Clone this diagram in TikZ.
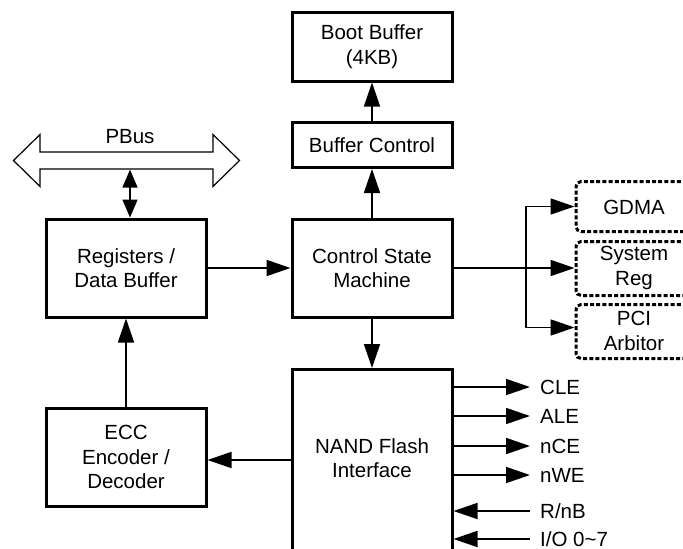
\documentclass[tikz,border=0pt]{standalone}
\usepackage{fontspec}
\setmainfont{Liberation Sans}
\usetikzlibrary{arrows.meta,calc}
\begin{document}
\begin{tikzpicture}[x=1pt,y=-1pt,
  every node/.style={font=\fontsize{20.5}{24.5}\selectfont,align=center},
  blk/.style={draw,line width=3pt,inner sep=0pt},
  dblk/.style={draw,line width=3pt,inner sep=0pt,dash pattern=on 4pt off 2.2pt,rounded corners=5pt},
  arr/.style={line width=1.7pt,-{Triangle[length=24pt,width=16pt]}},
  dblarr/.style={line width=1.7pt,{Triangle[length=18pt,width=15pt]}-{Triangle[length=18pt,width=15pt]}},
  lbl/.style={anchor=west,inner sep=0pt,align=left}]
\useasboundingbox (0,0) rectangle (683,549);
\clip (0,0) rectangle (683,549);
% blocks
\node[blk,minimum width=160,minimum height=69] (boot) at (372,46.5) {Boot Buffer\\(4KB)};
\node[blk,minimum width=160,minimum height=45] (bufctl) at (372,145) {Buffer Control};
\node[blk,minimum width=160,minimum height=98] (csm) at (372,268) {Control State\\Machine};
\node[blk,minimum width=160,minimum height=98] (reg) at (126,268) {Registers /\\Data Buffer};
\node[blk,minimum width=160,minimum height=98] (ecc) at (126,457) {ECC\\Encoder /\\Decoder};
\node[blk,minimum width=160,minimum height=186] (nand) at (372,462.5) {};
\node (nandtxt) at (372,458) {NAND Flash\\Interface};
\node[dblk,minimum width=116,minimum height=50] (gdma) at (634,206.5) {};
\node (gdmatxt) at (634,207) {GDMA};
\node[dblk,minimum width=116,minimum height=54] (sysreg) at (634,268.5) {};
\node (sysregtxt) at (634,268) {System\\Reg};
\node[dblk,minimum width=116,minimum height=54] (pci) at (634,331.5) {};
\node (pcitxt) at (634,331) {PCI\\Arbitor};
% PBus
\draw[line width=1.2pt,line join=miter]
  (13.5,160.5) -- (40,134.5) -- (40,152) -- (213,152) -- (213,134.5) -- (239.5,160.5)
  -- (213,186.5) -- (213,169) -- (40,169) -- (40,186.5) -- cycle;
\node (pbus) at (130,137) {PBus};
\coordinate (pbusbot) at (130,169.6);
\draw[dblarr] (pbusbot) -- (reg.north -| pbusbot);
% connectors
\draw[arr] (bufctl.north) -- (boot.south);
\draw[arr] (csm.north) -- (bufctl.south);
\draw[arr] (csm.south) -- (nand.north);
\draw[arr] (reg.east) -- (csm.west);
\draw[arr] (ecc.north) -- (reg.south);
\draw[arr] (nand.west |- 0,460) -- (ecc.east |- 0,460);
\coordinate (br) at (526,268);
\draw[line width=1.7pt] (csm.east) -- (br);
\draw[arr] (br) |- (gdma.west);
\draw[arr] (br) -- (sysreg.west |- br);
\draw[arr] (br) |- ($(pci.west)+(0,-4)$);
% NAND pins
\node[lbl] (cle) at (540,387) {CLE};
\node[lbl] (ale) at (540,416) {ALE};
\node[lbl] (nce) at (540,446) {nCE};
\node[lbl] (nwe) at (540,475) {nWE};
\node[lbl] (rnb) at (540,511) {R/nB};
\node[lbl] (io) at (540,539) {I/O 0\textasciitilde7};
\draw[arr] (nand.east |- cle.west) -- ([xshift=-10pt]cle.west);
\draw[arr] (nand.east |- ale.west) -- ([xshift=-10pt]ale.west);
\draw[arr] (nand.east |- nce.west) -- ([xshift=-10pt]nce.west);
\draw[arr] (nand.east |- nwe.west) -- ([xshift=-10pt]nwe.west);
\draw[arr] ([xshift=-10pt]rnb.west) -- (nand.east |- rnb.west);
\draw[arr] ([xshift=-10pt]io.west) -- (nand.east |- io.west);
\end{tikzpicture}
\end{document}
